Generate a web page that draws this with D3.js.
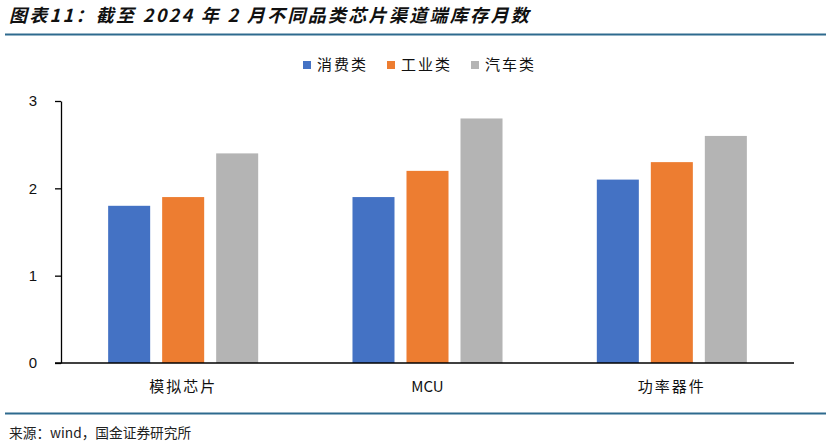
<!DOCTYPE html>
<html>
<head>
<meta charset="utf-8">
<script src="https://cdn.jsdelivr.net/npm/d3@7"></script>
<style>
  body { margin: 0; background: #fff; }
  svg { display: block; }
</style>
</head>
<body>
<svg id="chart"></svg>
<script>
// Data
const categories = ["模拟芯片", "MCU", "功率器件"];
const seriesNames = ["消费类", "工业类", "汽车类"];
const consumerVals = [1.8, 1.9, 2.1];
const industrialVals = [1.9, 2.2, 2.3];
const autoVals = [2.4, 2.8, 2.6];
const yTicks = [0, 1, 2, 3];

const colors = ["#4472C4", "#ED7D31", "#B4B4B4"];
const seriesVals = [consumerVals, industrialVals, autoVals];

const width = 831;
const height = 446;
const margin = { top: 101, right: 37, bottom: 83, left: 61 };
const cjk = "'Noto Sans CJK SC', 'Noto Sans', sans-serif";

const svg = d3.select("#chart")
  .attr("width", width)
  .attr("height", height);

// Title + rules
svg.append("text")
  .attr("x", 9)
  .attr("y", 22)
  .attr("font-family", cjk)
  .attr("font-size", 18)
  .attr("font-weight", "bold")
  .attr("font-style", "italic")
  .attr("letter-spacing", 2.3)
  .attr("fill", "#111")
  .text("图表11：截至 2024 年 2 月不同品类芯片渠道端库存月数");

svg.append("line")
  .attr("x1", 5).attr("x2", 826)
  .attr("y1", 34.5).attr("y2", 34.5)
  .attr("stroke", "#2E6A8E")
  .attr("stroke-width", 2);

svg.append("line")
  .attr("x1", 5).attr("x2", 826)
  .attr("y1", 413.5).attr("y2", 413.5)
  .attr("stroke", "#2E6A8E")
  .attr("stroke-width", 2);

svg.append("text")
  .attr("x", 9)
  .attr("y", 438)
  .attr("font-family", cjk)
  .attr("font-size", 13.7)
  .attr("fill", "#222")
  .text("来源：wind，国金证券研究所");

// Scales
const x0 = d3.scaleBand()
  .domain(categories)
  .range([margin.left, width - margin.right])
  .paddingInner(0)
  .paddingOuter(0);

const x1 = d3.scaleBand()
  .domain(seriesNames)
  .range([0, x0.bandwidth()])
  .paddingInner(0.222)
  .paddingOuter(0.873);

const y = d3.scaleLinear()
  .domain([0, 3])
  .range([height - margin.bottom, margin.top]);

// Bars
const rows = categories.map((c, i) => ({
  cat: c,
  vals: seriesNames.map((s, j) => ({ key: s, value: seriesVals[j][i], color: colors[j] }))
}));

const groups = svg.append("g")
  .selectAll("g")
  .data(rows)
  .join("g")
    .attr("transform", d => `translate(${x0(d.cat)},0)`);

groups.selectAll("rect")
  .data(d => d.vals)
  .join("rect")
    .attr("x", d => x1(d.key))
    .attr("y", d => y(d.value))
    .attr("width", x1.bandwidth())
    .attr("height", d => y(0) - y(d.value))
    .attr("fill", d => d.color);

// Y axis
const yAxis = svg.append("g")
  .attr("transform", `translate(${margin.left},0)`)
  .call(d3.axisLeft(y).tickValues(yTicks).tickFormat(d3.format("d")).tickSize(6).tickSizeOuter(0));
yAxis.select(".domain").attr("stroke", "#000").attr("stroke-width", 1.3);
yAxis.selectAll(".tick line").attr("stroke", "#000").attr("stroke-width", 1.3);
yAxis.selectAll(".tick text")
  .attr("x", -24)
  .attr("font-family", "'Liberation Sans', Arial, sans-serif")
  .attr("font-size", 15)
  .attr("fill", "#111");

// X axis
const xAxis = svg.append("g")
  .attr("transform", `translate(0,${y(0)})`)
  .call(d3.axisBottom(x0).tickSize(0).tickSizeOuter(0));
xAxis.select(".domain").remove();
xAxis.append("line")
  .attr("x1", margin.left - 6)
  .attr("x2", width - margin.right)
  .attr("stroke", "#000")
  .attr("stroke-width", 1.5);
xAxis.selectAll(".tick text")
  .attr("dy", 0)
  .attr("y", 29)
  .attr("font-family", cjk)
  .attr("font-size", 15)
  .attr("letter-spacing", d => d === "MCU" ? 0 : 2)
  .attr("fill", "#111");

// Legend
const legend = svg.append("g")
  .attr("transform", "translate(303,65)");
const legendX = [0, 84, 168];
seriesNames.forEach((s, i) => {
  const g = legend.append("g").attr("transform", `translate(${legendX[i]},0)`);
  g.append("rect")
    .attr("x", 0).attr("y", -4)
    .attr("width", 8).attr("height", 8)
    .attr("fill", colors[i]);
  g.append("text")
    .attr("x", 14)
    .attr("y", 5)
    .attr("font-family", cjk)
    .attr("font-size", 15)
    .attr("letter-spacing", 2)
    .attr("fill", "#111")
    .text(s);
});
</script>
</body>
</html>
